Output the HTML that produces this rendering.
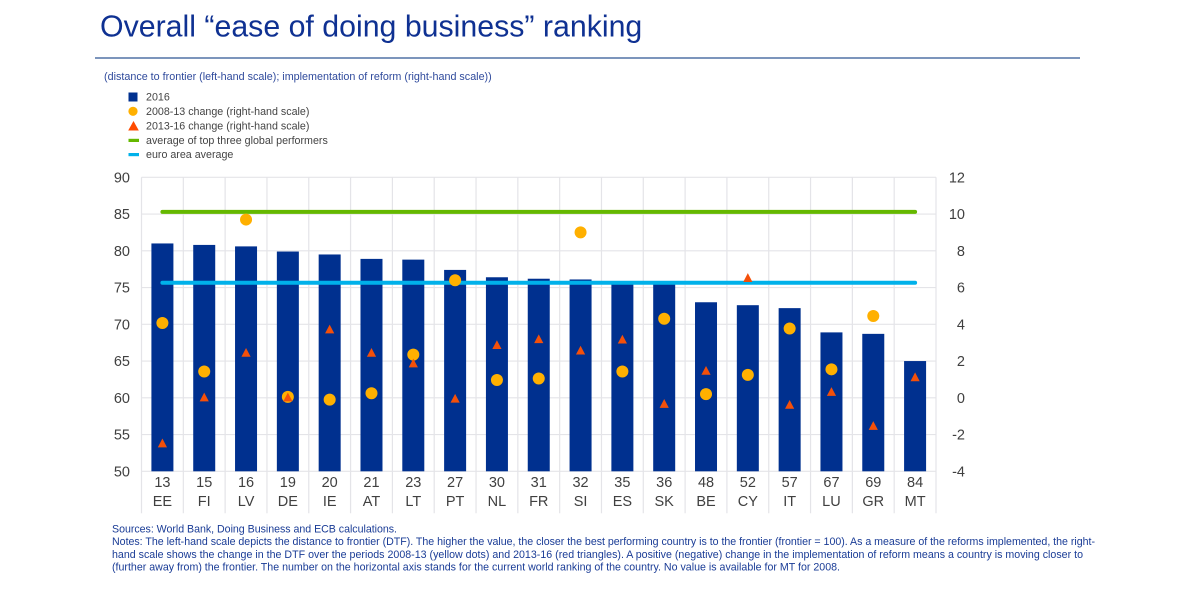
<!DOCTYPE html>
<html lang="en">
<head>
<meta charset="utf-8">
<title>Overall ease of doing business ranking</title>
<style>
html,body{margin:0;padding:0;background:#fff;width:1200px;height:598px;overflow:hidden}
svg{display:block;font-family:"Liberation Sans",Arial,sans-serif;filter:blur(0.35px)}
</style>
</head>
<body>
<svg id="chart" xmlns="http://www.w3.org/2000/svg" width="1200" height="598" viewBox="0 0 1200 598">
  <text x="100" y="36.5" font-size="30.3" fill="#0f3192">Overall “ease of doing business” ranking</text>
  <rect x="95" y="57.2" width="985" height="1.6" fill="#5b7bab"/>
  <text x="104" y="80" font-size="10.77" fill="#2f4a9c">(distance to frontier (left-hand scale); implementation of reform (right-hand scale))</text>

  <g font-size="10.7" fill="#444">
    <g>
      <rect x="128.5" y="92.5" width="9" height="9" fill="#00308f"/>
      <text x="146" y="100.5">2016</text>
    </g>
    <g>
      <circle cx="133" cy="111.3" r="4.6" fill="#ffb000"/>
      <text x="146" y="115">2008-13 change (right-hand scale)</text>
    </g>
    <g>
      <polygon points="133.5,121 138.8,130.5 128.2,130.5" fill="#ff4b00"/>
      <text x="146" y="129.7">2013-16 change (right-hand scale)</text>
    </g>
    <g>
      <rect x="128.5" y="138.8" width="10.5" height="3.2" fill="#65b800"/>
      <text x="146" y="144">average of top three global performers</text>
    </g>
    <g>
      <rect x="128.5" y="153" width="10.5" height="3.2" fill="#00b1ea"/>
      <text x="146" y="158">euro area average</text>
    </g>
  </g>

  <g id="grid"></g>
  <g id="bars"></g>
  <g id="lines"></g>
  <g id="dots"></g>
  <g id="tris"></g>
  <g id="leftAxis"></g>
  <g id="rightAxis"></g>
  <g id="xAxis"></g>

  <g font-size="10.64" fill="#1a3c96">
    <text x="112" y="532.6" textLength="285" lengthAdjust="spacing">Sources: World Bank, Doing Business and ECB calculations.</text>
    <text x="112" y="545.2" textLength="983" lengthAdjust="spacing">Notes: The left-hand scale depicts the distance to frontier (DTF). The higher the value, the closer the best performing country is to the frontier (frontier = 100). As a measure of the reforms implemented, the right-</text>
    <text x="112" y="558.2" textLength="971" lengthAdjust="spacing">hand scale shows the change in the DTF over the periods 2008-13 (yellow dots) and 2013-16 (red triangles). A positive (negative) change in the implementation of reform means a country is moving closer to</text>
    <text x="112" y="570.7" textLength="728" lengthAdjust="spacing">(further away from) the frontier. The number on the horizontal axis stands for the current world ranking of the country. No value is available for MT for 2008.</text>
  </g>
</svg>
<script>
const countries = ["EE","FI","LV","DE","IE","AT","LT","PT","NL","FR","SI","ES","SK","BE","CY","IT","LU","GR","MT"];
const ranks = [13,15,16,19,20,21,23,27,30,31,32,35,36,48,52,57,67,69,84];
const dtf2016 = [81.0,80.8,80.6,79.9,79.5,78.9,78.8,77.4,76.4,76.2,76.1,75.7,75.6,73.0,72.6,72.2,68.9,68.7,65.0];
const change0813 = [4.07,1.43,9.7,0.05,-0.1,0.25,2.35,6.4,0.97,1.05,9.0,1.43,4.3,0.2,1.25,3.77,1.55,4.45,null];
const change1316 = [-2.5,0.0,2.43,0.0,3.7,2.43,1.85,-0.07,2.85,3.17,2.55,3.15,-0.35,1.45,6.5,-0.4,0.3,-1.55,1.1];
const topThreeAverage = 85.3;
const euroAreaAverage = 75.66;
const leftTicks = [50,55,60,65,70,75,80,85,90];
const rightTicks = [-4,-2,0,2,4,6,8,10,12];

const NS = "http://www.w3.org/2000/svg";
const plotLeft = 141.5, plotRight = 936, plotTop = 177.3, plotBottom = 471.3;
const step = (plotRight - plotLeft) / countries.length;
function xCenter(i){ return plotLeft + step * (i + 0.5); }
function yLeft(v){ return plotBottom - (v - 50) / 40 * (plotBottom - plotTop); }
function yRight(v){ return plotBottom - (v + 4) / 16 * (plotBottom - plotTop); }
function mk(parent, tag, attrs, text){
  const el = document.createElementNS(NS, tag);
  for (const k in attrs) el.setAttribute(k, attrs[k]);
  if (text !== undefined) el.textContent = text;
  document.getElementById(parent).appendChild(el);
  return el;
}

leftTicks.forEach(function(t){
  const el = mk("grid","line",{x1:plotLeft,x2:plotRight,y1:yLeft(t),y2:yLeft(t),stroke:"#e4e4e8","stroke-width":1.2});
  
  
});
for (let i = 0; i <= countries.length; i++) {
  const x = plotLeft + step * i;
  const el = mk("grid","line",{x1:x,x2:x,y1:plotTop,y2:plotBottom + 42,stroke:"#e4e4e8","stroke-width":1.2});
  
  
}

dtf2016.forEach(function(v,i){
  const el = mk("bars","rect",{x:xCenter(i)-11,y:yLeft(v),width:22,height:plotBottom-yLeft(v),fill:"#00308f"});
  
  
});

const greenLine = mk("lines","line",{x1:xCenter(0),x2:xCenter(countries.length-1),y1:yLeft(topThreeAverage),y2:yLeft(topThreeAverage),stroke:"#65b800","stroke-width":4,"stroke-linecap":"round"});


const blueLine = mk("lines","line",{x1:xCenter(0),x2:xCenter(countries.length-1),y1:yLeft(euroAreaAverage),y2:yLeft(euroAreaAverage),stroke:"#00b1ea","stroke-width":4,"stroke-linecap":"round"});



change0813.forEach(function(v,i){
  if (v === null) return;
  const el = mk("dots","circle",{cx:xCenter(i),cy:yRight(v),r:6,fill:"#ffb000"});
  
  
});
change1316.forEach(function(v,i){
  const x = xCenter(i), y = yRight(v);
  const pts = x + "," + (y-5.2) + " " + (x+4.6) + "," + (y+3.6) + " " + (x-4.6) + "," + (y+3.6);
  const el = mk("tris","polygon",{points:pts,fill:"#f4500a"});
  
  
});

leftTicks.forEach(function(t){
  const el = mk("leftAxis","text",{x:130,y:yLeft(t)+5,"font-size":14.5,fill:"#404040","text-anchor":"end"},String(t));
  
  
});
rightTicks.forEach(function(t){
  const el = mk("rightAxis","text",{x:965,y:yRight(t)+5,"font-size":14.5,fill:"#404040","text-anchor":"end"},String(t));
  
  
});
countries.forEach(function(c,i){
  const r = mk("xAxis","text",{x:xCenter(i),y:487,"font-size":14.5,fill:"#404040","text-anchor":"middle"},String(ranks[i]));
  
  
  const n = mk("xAxis","text",{x:xCenter(i),y:506,"font-size":14.5,fill:"#404040","text-anchor":"middle"},c);
  
  
});
</script>
</body>
</html>
